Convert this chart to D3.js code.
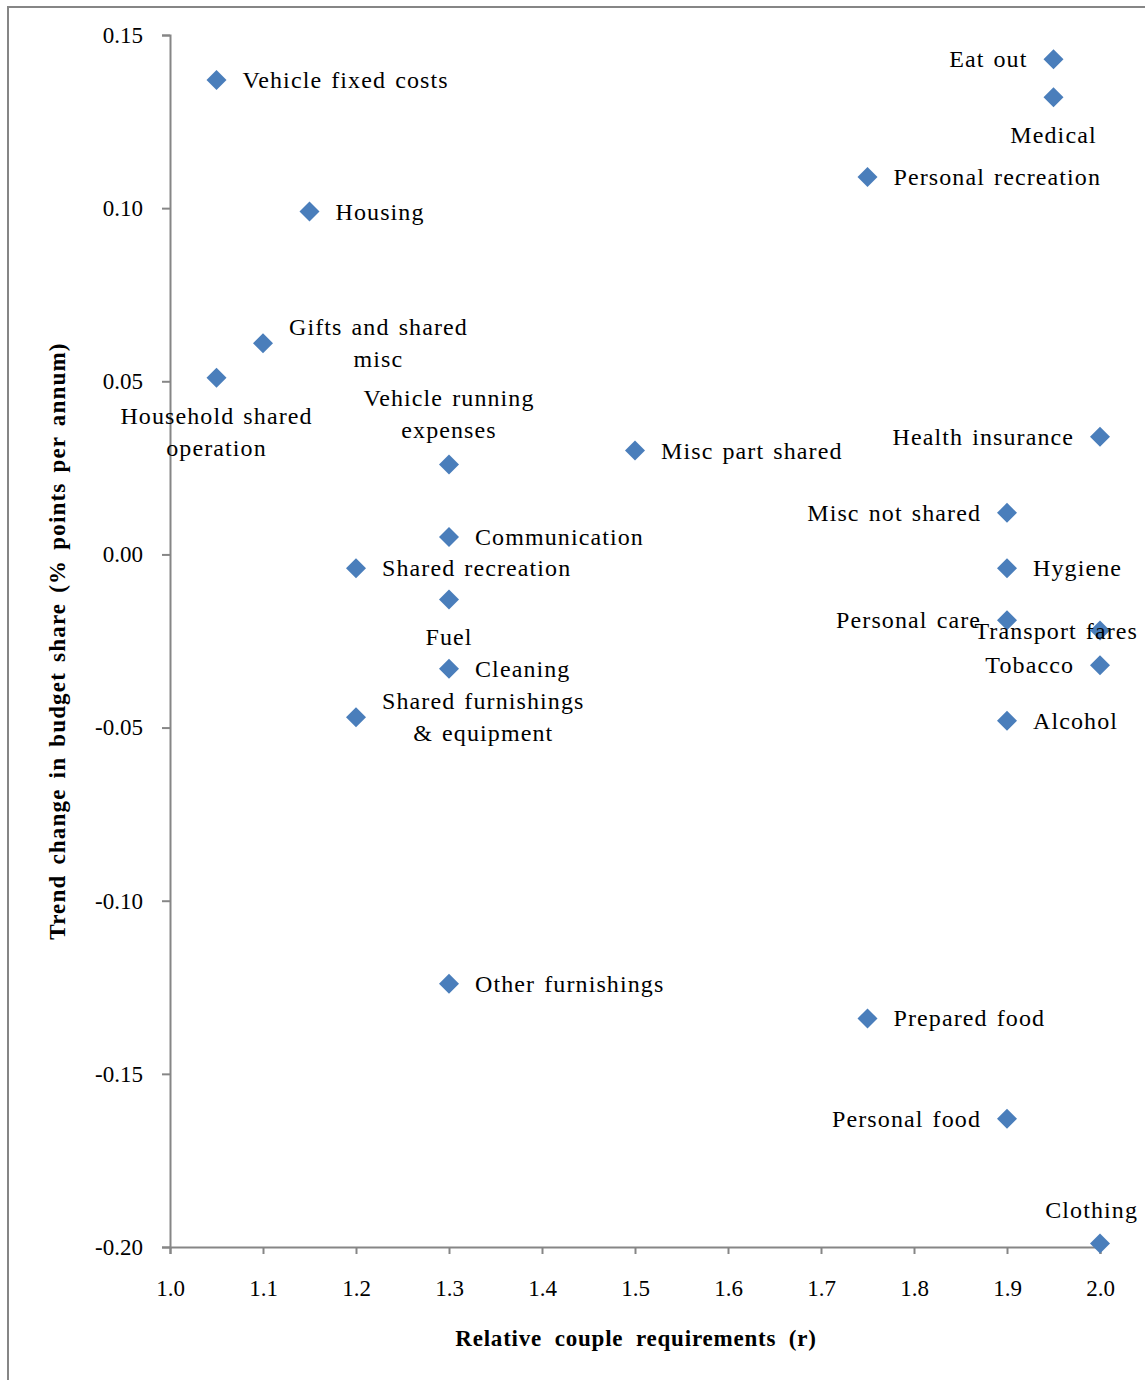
<!DOCTYPE html>
<html>
<head>
<meta charset="utf-8">
<script src="https://cdn.jsdelivr.net/npm/d3@7"></script>
<style>
    body { margin: 0; background: #fff; }
    svg { display: block; font-family: "Liberation Serif", "Times New Roman", serif; }
</style>
</head>
<body>
<svg id="chart"></svg>
<script>
// Data
const categories = [
    "Vehicle fixed costs", "Housing", "Gifts and shared\nmisc", "Household shared\noperation",
    "Vehicle running\nexpenses", "Misc part shared", "Communication", "Shared recreation",
    "Fuel", "Cleaning", "Shared furnishings\n& equipment", "Other furnishings",
    "Eat out", "Medical", "Personal recreation", "Health insurance",
    "Misc not shared", "Hygiene", "Personal care", "Transport fares",
    "Tobacco", "Alcohol", "Prepared food", "Personal food", "Clothing"
];
const rValues = [
    1.05, 1.15, 1.10, 1.05,
    1.30, 1.50, 1.30, 1.20,
    1.30, 1.30, 1.20, 1.30,
    1.95, 1.95, 1.75, 2.00,
    1.90, 1.90, 1.90, 2.00,
    2.00, 1.90, 1.75, 1.90, 2.00
];
const trendValues = [
    0.137, 0.099, 0.061, 0.051,
    0.026, 0.030, 0.005, -0.004,
    -0.013, -0.033, -0.047, -0.124,
    0.143, 0.132, 0.109, 0.034,
    0.012, -0.004, -0.019, -0.022,
    -0.032, -0.048, -0.134, -0.163, -0.199
];
// where each data label sits relative to its marker
const labelSide = [
    "right", "right", "right", "below",
    "above", "right", "right", "right",
    "below", "right", "right", "right",
    "left", "below", "right", "left",
    "left", "right", "left", "right",
    "left", "right", "right", "left", "above"
];
const xTicks = [1.0, 1.1, 1.2, 1.3, 1.4, 1.5, 1.6, 1.7, 1.8, 1.9, 2.0];
const yTicks = [0.15, 0.10, 0.05, 0.00, -0.05, -0.10, -0.15, -0.20];

const width = 1145, height = 1380;
const margin = {top: 35, right: 45, bottom: 133, left: 170};
const labelMaxX = 1138;

const svg = d3.select("#chart")
    .attr("width", width)
    .attr("height", height);

// outer frame
svg.append("rect")
    .attr("x", 8).attr("y", 7)
    .attr("width", width + 20).attr("height", height + 20)
    .attr("fill", "none")
    .attr("stroke", "#868686")
    .attr("stroke-width", 2);

const x = d3.scaleLinear()
    .domain([1.0, 2.0])
    .range([margin.left, width - margin.right]);

const y = d3.scaleLinear()
    .domain([-0.20, 0.15])
    .range([height - margin.bottom, margin.top]);

const fmtY = v => d3.format(".2f")(v).replace("\u2212", "-");

// X axis
const xAxis = svg.append("g")
    .attr("transform", `translate(0,${height - margin.bottom})`)
    .call(d3.axisBottom(x).tickValues(xTicks).tickFormat(d3.format(".1f")).tickSize(7).tickPadding(26));

// Y axis
const yAxis = svg.append("g")
    .attr("transform", `translate(${margin.left},0)`)
    .call(d3.axisLeft(y).tickValues(yTicks).tickFormat(fmtY).tickSize(8).tickPadding(19));

[xAxis, yAxis].forEach(g => {
    g.select(".domain").attr("stroke", "#868686").attr("stroke-width", 2);
    g.selectAll(".tick line").attr("stroke", "#868686").attr("stroke-width", 2);
    g.selectAll(".tick text")
        .attr("fill", "#000")
        .style("font-family", "Liberation Serif, serif")
        .style("font-size", "23px");
});
yAxis.selectAll(".tick text").attr("dy", "0.32em");

// axis titles
svg.append("text")
    .attr("x", (margin.left + width - margin.right) / 2 + 1)
    .attr("y", 1346)
    .attr("text-anchor", "middle")
    .style("font-weight", "bold")
    .style("font-size", "23px")
    .style("letter-spacing", "0.8px")
    .style("word-spacing", "6px")
    .text("Relative couple requirements (r)");

svg.append("text")
    .attr("transform", `translate(65,${641}) rotate(-90)`)
    .attr("text-anchor", "middle")
    .style("font-weight", "bold")
    .style("font-size", "23px")
    .style("letter-spacing", "1.2px")
    .style("word-spacing", "3px")
    .text("Trend change in budget share (% points per annum)");

// markers
const points = categories.map((c, i) => ({name: c, r: rValues[i], t: trendValues[i], side: labelSide[i]}));

svg.append("g")
    .selectAll("path")
    .data(points)
    .join("path")
    .attr("d", d3.symbol(d3.symbolSquare, 200))
    .attr("transform", d => `translate(${x(d.r)},${y(d.t)}) rotate(45)`)
    .attr("fill", "#4a7ebb");

// data labels
const fontSize = 24, lineH = 32;
const labels = svg.append("g")
    .style("font-size", fontSize + "px")
    .style("letter-spacing", "1.1px")
    .style("word-spacing", "2px")
    .attr("fill", "#000");

points.forEach(d => {
    const px = x(d.r), py = y(d.t);
    const lines = d.name.split("\n");
    const g = labels.append("g");
    const texts = lines.map(l => g.append("text").attr("text-anchor", "middle").text(l));
    const w = d3.max(texts, t => t.node().getComputedTextLength());
    const n = lines.length;
    let cx, topBaseline;
    if (d.side === "right") {
        cx = px + 26 + w / 2;
        topBaseline = py + 8 - (n - 1) * lineH / 2;
    } else if (d.side === "left") {
        cx = px - 26 - w / 2;
        topBaseline = py + 8 - (n - 1) * lineH / 2;
    } else if (d.side === "above") {
        cx = px;
        topBaseline = py - 26 - (n - 1) * lineH;
    } else {
        cx = px;
        topBaseline = py + 46;
    }
    // keep the label inside the chart area
    if (cx + w / 2 > labelMaxX) cx = labelMaxX - w / 2;
    texts.forEach((t, i) => t.attr("x", cx).attr("y", topBaseline + i * lineH));
});
</script>
</body>
</html>
